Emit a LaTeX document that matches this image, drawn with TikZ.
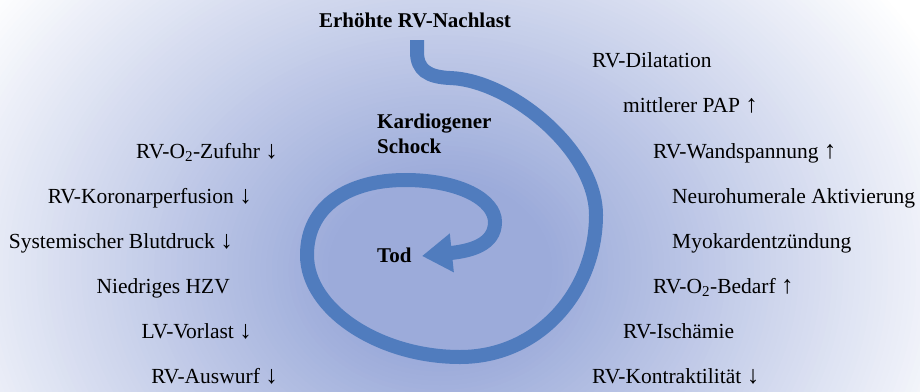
\documentclass[tikz,border=0pt]{standalone}
\usepackage{fontspec}
\setmainfont{Liberation Serif}
\usetikzlibrary{arrows.meta}
\definecolor{bgc}{RGB}{156,171,218}
\definecolor{spiralc}{RGB}{80,124,190}
\newcommand{\myDown}{{\fontsize{25}{25}\selectfont ↓}}
\newcommand{\myUp}{{\fontsize{25}{25}\selectfont ↑}}
\tikzset{
  lbl/.style={inner sep=0pt, text=black, font=\rmfamily\fontsize{21.5}{25}\selectfont},
  blbl/.style={lbl, font=\rmfamily\fontsize{21}{25}\selectfont\bfseries},
  spiralline/.style={draw=spiralc, line width=14pt, line cap=butt,
    -{Triangle[length=30pt,width=37pt]}}
}
\begin{document}
\begin{tikzpicture}[x=1pt,y=-1pt]
\clip (0,0) rectangle (920,391);
\fill[white] (0,0) rectangle (920,391);
% background: concentric ellipses
\foreach \i in {100,99,...,1}{
  \pgfmathsetmacro{\rr}{\i/100}
  \pgfmathsetmacro{\ff}{max(0,min(1,(\rr-0.2)/0.8))}
  \pgfmathsetmacro{\pc}{100*(1-\ff)}
  \fill[bgc!\pc!white] (440,270) ellipse [x radius=\rr*560pt, y radius=\rr*460pt];
}
\useasboundingbox (0,0) rectangle (920,391);

% spiral
\coordinate (s0) at (417,40);
\coordinate (s1) at (422,256);
\draw[spiralline] (s0) -- (417,52) .. controls (417,70) and (428,77) .. (450,78)
  .. controls (510,80) and (596,150) .. (596,215)
  .. controls (596,290) and (540,357) .. (460,357)
  .. controls (380,357) and (307,310) .. (307,255)
  .. controls (307,205) and (350,180) .. (405,180)
  .. controls (460,180) and (495,200) .. (495,222)
  .. controls (495,245) and (470,251) .. (s1);

% bold labels
\node[blbl, anchor=base] (top) at (415,27) {Erhöhte RV-Nachlast};
\node[blbl, anchor=base west] (ks1) at (377,128) {Kardiogener};
\node[blbl, anchor=base west] (ks2) at (377,153) {Schock};
\node[blbl, anchor=base west] (tod) at (377,262) {Tod};

% left labels
\node[lbl, anchor=base east] (l1) at (278,158) {RV-O\textsubscript{2}-Zufuhr \myDown};
\node[lbl, anchor=base east] (l2) at (252,203) {RV-Koronarperfusion \myDown};
\node[lbl, anchor=base east] (l3) at (233,248) {Systemischer Blutdruck \myDown};
\node[lbl, anchor=base east] (l4) at (230,293) {Niedriges HZV};
\node[lbl, anchor=base east] (l5) at (252,338) {LV-Vorlast \myDown};
\node[lbl, anchor=base east] (l6) at (278,383) {RV-Auswurf \myDown};

% right labels
\node[lbl, anchor=base west] (r1) at (592,67) {RV-Dilatation};
\node[lbl, anchor=base west] (r2) at (623,112) {mittlerer PAP \myUp};
\node[lbl, anchor=base west] (r3) at (653,158) {RV-Wandspannung \myUp};
\node[lbl, anchor=base west] (r4) at (672,203) {Neurohumerale Aktivierung};
\node[lbl, anchor=base west] (r5) at (672,248) {Myokardentzündung};
\node[lbl, anchor=base west] (r6) at (653,293) {RV-O\textsubscript{2}-Bedarf \myUp};
\node[lbl, anchor=base west] (r7) at (623,338) {RV-Ischämie};
\node[lbl, anchor=base west] (r8) at (592,383) {RV-Kontraktilität \myDown};
\end{tikzpicture}
\end{document}
